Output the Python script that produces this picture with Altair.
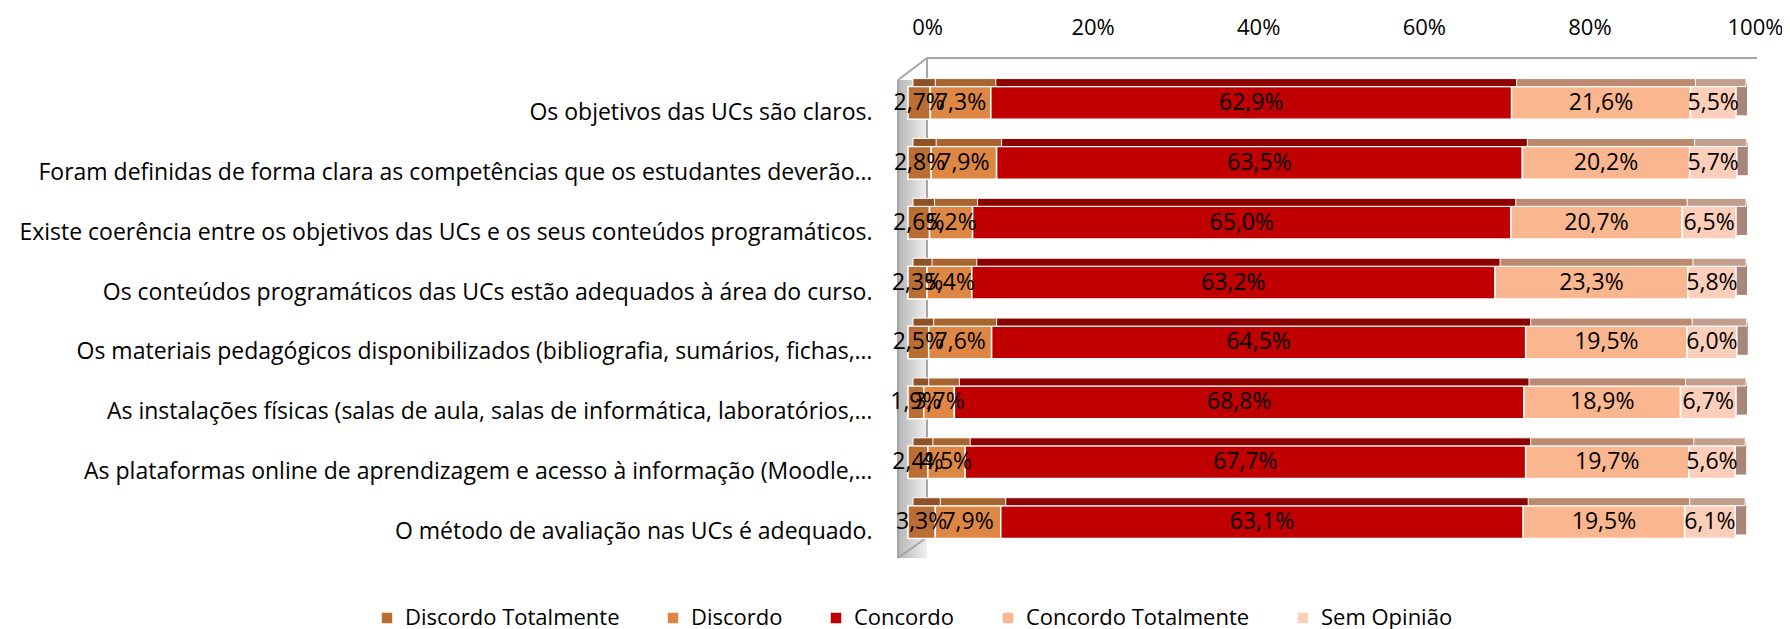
import altair as alt
import pandas as pd

questions = [
    "Os objetivos das UCs são claros.",
    "Foram definidas de forma clara as competências que os estudantes deverão…",
    "Existe coerência entre os objetivos das UCs e os seus conteúdos programáticos.",
    "Os conteúdos programáticos das UCs estão adequados à área do curso.",
    "Os materiais pedagógicos disponibilizados (bibliografia, sumários, fichas,…",
    "As instalações físicas (salas de aula, salas de informática, laboratórios,…",
    "As plataformas online de aprendizagem e acesso à informação (Moodle,…",
    "O método de avaliação nas UCs é adequado.",
]
categories = ["Discordo Totalmente", "Discordo", "Concordo", "Concordo Totalmente", "Sem Opinião"]
discordo_totalmente = [2.7, 2.8, 2.6, 2.3, 2.5, 1.9, 2.4, 3.3]
discordo = [7.3, 7.9, 5.2, 5.4, 7.6, 3.7, 4.5, 7.9]
concordo = [62.9, 63.5, 65.0, 63.2, 64.5, 68.8, 67.7, 63.1]
concordo_totalmente = [21.6, 20.2, 20.7, 23.3, 19.5, 18.9, 19.7, 19.5]
sem_opiniao = [5.5, 5.7, 6.5, 5.8, 6.0, 6.7, 5.6, 6.1]
x_ticks = [0, 20, 40, 60, 80, 100]

front_colors = ["#BA6E34", "#DE8745", "#C00000", "#FAB68F", "#FDCEBA"]
top_colors = ["#8F5226", "#A8642F", "#8C0000", "#BC8A70", "#C29E8E"]
side_color = "#A8877A"
FONT = "Open Sans"

series = [discordo_totalmente, discordo, concordo, concordo_totalmente, sem_opiniao]
rows = []
for i, q in enumerate(questions):
    for k, (c, vals) in enumerate(zip(categories, series)):
        v = vals[i]
        rows.append({"q": q, "cat": c, "k": k, "value": v,
                     "label": f"{v:.1f}%".replace(".", ",")})
df = pd.DataFrame(rows)

base = alt.Chart(df).transform_stack(
    stack="value", groupby=["q"], as_=["start", "end"], sort=[alt.SortField("k")]
).transform_calculate(mid="(datum.start + datum.end) / 2")

xscale = alt.Scale(domain=[0, 100], nice=False, zero=True)
yscale = alt.Scale(domain=questions, paddingInner=0.454, paddingOuter=0.227)

x_axis = alt.Axis(orient="top", values=x_ticks, labelExpr="datum.value + '%'",
                  ticks=False, domain=False, grid=False, labelPadding=34,
                  labelOffset=19, labelFlush=False, labelFontSize=22, labelFont=FONT,
                  labelColor="black", title=None)
y_axis = alt.Axis(title=None, ticks=False, domain=False, labelPadding=36,
                  labelLimit=1500, labelFontSize=23, labelFont=FONT,
                  labelColor="black", labelOffset=10)
y_enc = alt.Y("q:N", scale=yscale, sort=questions, axis=y_axis)

frame_df = pd.DataFrame({"a": [0]})
wall = alt.Chart(frame_df).mark_rect(
    color=alt.Gradient(gradient="linear", x1=0, x2=1, y1=0, y2=0,
                       stops=[alt.GradientStop(color="#b5b5b5", offset=0),
                              alt.GradientStop(color="#f0f0f0", offset=1)])
).encode(x=alt.value(-10), x2=alt.value(19), y=alt.value(7), y2=alt.value(485))

def frame_line(x1, y1, x2, y2):
    return alt.Chart(frame_df).mark_rule(color="#a6a6a6", strokeWidth=2).encode(
        x=alt.value(x1), y=alt.value(y1), x2=alt.value(x2), y2=alt.value(y2))

lines = [
    frame_line(-10, 7, -10, 485),
    frame_line(19, -15, 19, 465),
    frame_line(-10, 7, 19, -15),
    frame_line(-10, 485, 18, 465),
    frame_line(19, -15, 849, -15),
]

front = base.mark_bar(stroke="white", strokeWidth=1.5).encode(
    x=alt.X("start:Q", scale=xscale, axis=x_axis), x2="end:Q", y=y_enc,
    color=alt.Color("cat:N", scale=alt.Scale(domain=categories, range=front_colors),
                    legend=alt.Legend(orient="none", legendX=-532, legendY=534,
                                      direction="horizontal", title=None,
                                      symbolType="square", symbolSize=110,
                                      symbolStrokeWidth=0, labelFont=FONT,
                                      labelFontSize=22, labelColor="black",
                                      labelLimit=400,
                                      columnPadding=42, labelOffset=7)),
)

side = base.transform_filter("datum.k == 4").mark_bar(
    color=side_color, size=32.7, x2Offset=11, yOffset=-4
).encode(x=alt.X("end:Q", scale=xscale, axis=x_axis), x2="end:Q", y=y_enc)

top = base.mark_bar(size=8, yOffset=-20.35, xOffset=5, x2Offset=10,
                    stroke="white", strokeWidth=1).encode(
    x=alt.X("start:Q", scale=xscale, axis=x_axis), x2="end:Q", y=y_enc,
    color=alt.Color("cat:N", scale=alt.Scale(domain=categories, range=top_colors),
                    legend=None),
)

labels = base.mark_text(font=FONT, fontSize=23, color="black").encode(
    x=alt.X("mid:Q", scale=xscale, axis=x_axis), y=y_enc, text="label:N")

chart = alt.layer(wall, *lines, side, front, top, labels).resolve_scale(
    color="independent"
).properties(
    width=828, height=479,
    autosize=alt.AutoSizeParams(type="none"),
    padding={"left": 900, "top": 65, "right": 46, "bottom": 84},
).configure_view(strokeWidth=0)

chart.save("out.html", embed_options={"renderer": "svg", "actions": False})
